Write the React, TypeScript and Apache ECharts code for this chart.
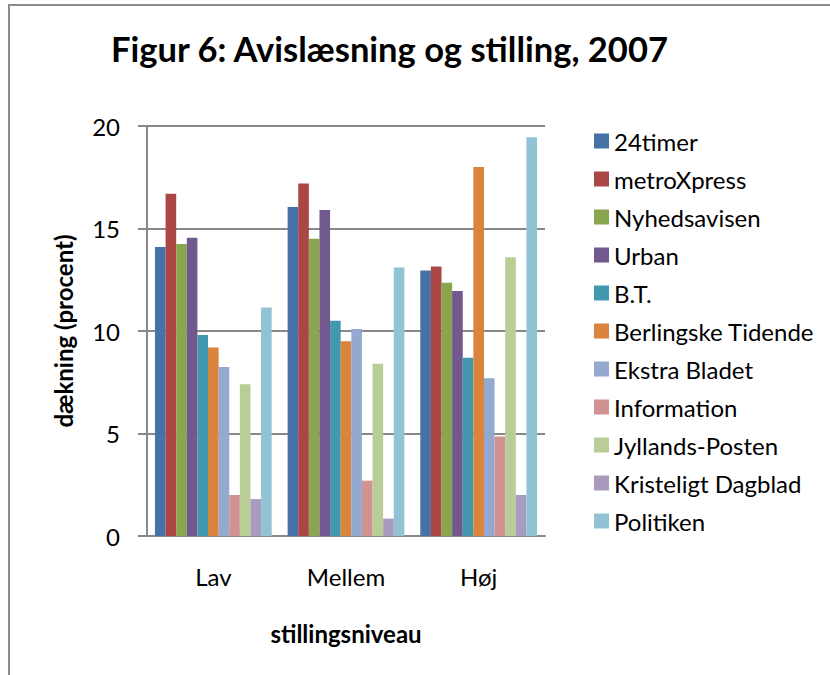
import React, { useEffect, useRef } from "react";
import * as echarts from "echarts";

const categories = ["Lav", "Mellem", "Høj"];
const seriesNames = [
  "24timer",
  "metroXpress",
  "Nyhedsavisen",
  "Urban",
  "B.T.",
  "Berlingske Tidende",
  "Ekstra Bladet",
  "Information",
  "Jyllands-Posten",
  "Kristeligt Dagblad",
  "Politiken",
];
const v24timer = [14.1, 16.05, 12.95];
const vMetroXpress = [16.7, 17.2, 13.15];
const vNyhedsavisen = [14.25, 14.5, 12.35];
const vUrban = [14.55, 15.9, 11.95];
const vBT = [9.8, 10.5, 8.7];
const vBerlingske = [9.2, 9.5, 18.0];
const vEkstraBladet = [8.25, 10.1, 7.7];
const vInformation = [2.0, 2.7, 4.85];
const vJyllandsPosten = [7.4, 8.4, 13.6];
const vKristeligt = [1.8, 0.85, 2.0];
const vPolitiken = [11.15, 13.1, 19.45];
const allValues = [
  v24timer, vMetroXpress, vNyhedsavisen, vUrban, vBT, vBerlingske,
  vEkstraBladet, vInformation, vJyllandsPosten, vKristeligt, vPolitiken,
];
const colors = [
  "#4672A8", "#AA4643", "#89A54E", "#71588F", "#4198AF", "#DB843D",
  "#93A9CF", "#D19392", "#B9CD96", "#A99BBD", "#92C3D4",
];
const yTicks = [0, 5, 10, 15, 20];

const FONT = "Lato";

export default function App() {
  const ref = useRef<HTMLDivElement>(null);
  useEffect(() => {
    const chart = echarts.init(ref.current!, undefined, { renderer: "svg" });
    chart.setOption({
      animation: false,
      backgroundColor: "#ffffff",
      color: colors,
      title: {
        text: "Figur 6: Avislæsning og stilling, 2007",
        left: 106,
        top: 26,
        textStyle: { fontFamily: FONT, fontWeight: "bold", fontSize: 34.5, color: "#000" },
      },
      graphic: [
        {
          type: "rect",
          shape: { x: 9, y: 5, width: 1000, height: 1000 },
          style: { fill: "none", stroke: "#8c8c8c", lineWidth: 2 },
        },
      ],
      legend: {
        orient: "vertical",
        left: 589,
        top: 124,
        itemWidth: 15,
        itemHeight: 15,
        itemGap: 14,
        icon: "rect",
        textStyle: { fontFamily: FONT, fontSize: 24, lineHeight: 24, color: "#000" },
        data: seriesNames,
      },
      grid: { left: 147, right: 285, top: 126, bottom: 139 },
      xAxis: {
        type: "category",
        data: categories,
        name: "stillingsniveau",
        nameLocation: "middle",
        nameGap: 85,
        nameTextStyle: { fontFamily: FONT, fontWeight: "bold", fontSize: 24, color: "#000" },
        axisLine: { lineStyle: { color: "#888", width: 2 } },
        axisTick: { show: false },
        axisLabel: { fontFamily: FONT, fontSize: 24, color: "#000", margin: 28 },
      },
      yAxis: {
        type: "value",
        min: yTicks[0],
        max: yTicks[yTicks.length - 1],
        interval: 5,
        name: "dækning (procent)",
        nameLocation: "middle",
        nameGap: 72,
        nameTextStyle: { fontFamily: FONT, fontWeight: "bold", fontSize: 24, color: "#000" },
        axisLine: { show: true, lineStyle: { color: "#888", width: 2 } },
        axisTick: { show: true, length: 9, lineStyle: { color: "#888", width: 2 } },
        axisLabel: { fontFamily: FONT, fontSize: 24, color: "#000", margin: 27 },
        splitLine: { lineStyle: { color: "#888", width: 2 } },
      },
      series: seriesNames.map((name, i) => ({
        name,
        type: "bar",
        data: allValues[i],
        barGap: "0%",
        barCategoryGap: "12%",
        itemStyle: { color: colors[i] },
      })),
    });
    return () => chart.dispose();
  }, []);
  return (
    <div
      ref={ref}
      style={{ position: "absolute", left: 0, top: 0, width: 830, height: 675 }}
    />
  );
}
